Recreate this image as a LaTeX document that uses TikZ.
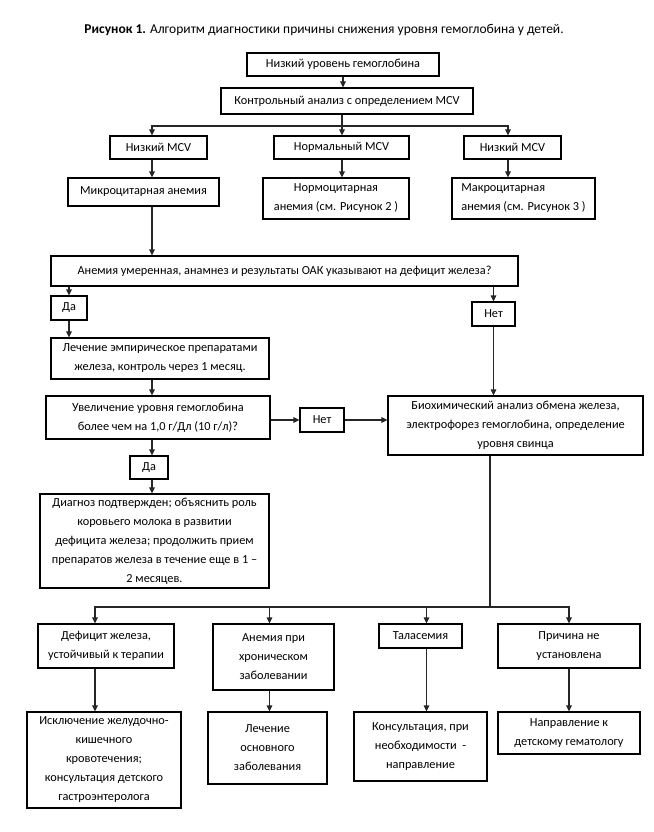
\documentclass[tikz,border=0pt]{standalone}
\usepackage{fontspec}
\setmainfont{Carlito}
\usetikzlibrary{arrows.meta}

\begin{document}
\begin{tikzpicture}[
  x=1pt,y=-1pt,
  >={Triangle[length=6pt,width=5.5pt]},
  box/.style={draw,line width=1.1pt,align=center,inner sep=1pt,
    font=\fontsize{12.3}{19}\selectfont},
  link/.style={->,line width=1.1pt,draw=black!85},
  wire/.style={line width=1.1pt,draw=black!85}
]
  \useasboundingbox (0,0) rectangle (653,832);
  \node[font=\fontsize{13.5}{16}\selectfont] (title) at (324,30)
    {\textbf{Рисунок 1.} Алгоритм диагностики причины снижения уровня гемоглобина у детей.};

  % columns and branch points
  \coordinate (colL) at (152,0);
  \coordinate (colR) at (508,0);
  \coordinate (brA) at (342,126);
  \coordinate (brB) at (490,607);

  % top part
  \node[box,minimum width=192pt,minimum height=23pt] (low) at (343,64.5) {Низкий уровень гемоглобина};
  \node[box,minimum width=252pt,minimum height=26pt] (mcv) at (347,101) {Контрольный анализ с определением MCV};
  \node[box,minimum width=97pt,minimum height=23pt] (lowL) at (158.5,147.5) {Низкий MCV};
  \node[box,minimum width=135pt,minimum height=23pt] (norm) at (341.5,147.5) {Нормальный MCV};
  \node[box,minimum width=97pt,minimum height=23pt] (lowR) at (512.5,147.5) {Низкий MCV};
  \node[box,minimum width=151pt,minimum height=28pt] (micro) at (143.5,192) {Микроцитарная анемия};
  \node[box,minimum width=146pt,minimum height=41pt] (normo) at (336,198.5) {Нормоцитарная\\анемия (см. Рисунок 2 )};
  \node[box,align=left,minimum width=143pt,minimum height=41pt] (macro) at (523.5,198.5) {Макроцитарная\\анемия (см. Рисунок 3 )};

  % iron question
  \node[box,minimum width=467pt,minimum height=30pt] (ask) at (284.5,271)
    {Анемия умеренная, анамнез и результаты ОАК указывают на дефицит железа?};
  \node[box,minimum width=36pt,minimum height=24pt] (yesA) at (69,308) {Да};
  \node[box,minimum width=43pt,minimum height=24pt] (noA) at (493.5,314) {Нет};
  \node[box,minimum width=218pt,minimum height=41pt] (trial) at (160,358.5)
    {Лечение эмпирическое препаратами\\железа, контроль через 1 месяц.};
  \node[box,minimum width=224pt,minimum height=43pt] (rise) at (158,417.5)
    {Увеличение уровня гемоглобина\\более чем на 1,0 г/Дл (10 г/л)?};
  \node[box,minimum width=44pt,minimum height=24pt] (noB) at (322,420) {Нет};
  \node[box,minimum width=255pt,minimum height=59pt] (labs) at (515.5,425.5)
    {Биохимический анализ обмена железа,\\электрофорез гемоглобина, определение\\уровня свинца};
  \node[box,minimum width=38pt,minimum height=23pt] (yesB) at (149,467.5) {Да};
  \node[box,minimum width=229pt,minimum height=94pt] (sure) at (154.5,541)
    {Диагноз подтвержден; объяснить роль\\коровьего молока в развитии\\дефицита железа; продолжить прием\\препаратов железа в течение еще в 1 –\\2 месяцев.};

  % causes
  \node[box,minimum width=136pt,minimum height=44pt] (resist) at (106,646) {Дефицит железа,\\устойчивый к терапии};
  \node[box,minimum width=121pt,minimum height=66pt] (chron) at (273.5,657) {Анемия при\\хроническом\\заболевании};
  \node[box,minimum width=83pt,minimum height=24pt] (thal) at (420.5,636) {Таласемия};
  \node[box,minimum width=142pt,minimum height=44pt] (unkn) at (569,646) {Причина не\\установлена};
  \node[box,minimum width=154pt,minimum height=96pt] (gastro) at (104,760)
    {Исключение желудочно-\\кишечного\\кровотечения;\\консультация детского\\гастроэнтеролога};
  \node[box,minimum width=119pt,minimum height=72pt] (treat) at (267.5,748) {Лечение\\основного\\заболевания};
  \node[box,minimum width=133pt,minimum height=69pt] (consult) at (420.5,746.5) {Консультация, при\\необходимости ~-\\направление};
  \node[box,minimum width=142pt,minimum height=42pt] (hemat) at (569,733) {Направление к\\детскому гематологу};

  % connectors
  \draw[link] (low.south) -- (mcv.north -| low.south);
  \draw[wire] (mcv.south -| brA) -- (brA);
  \draw[link] (brA) -| (lowL.north -| colL);
  \draw[link] (brA) -- (norm.north -| brA);
  \draw[link] (brA) -| (lowR.north -| colR);
  \draw[link] (lowL.south -| colL) -- (micro.north -| colL);
  \draw[link] (norm.south -| brA) -- (normo.north -| brA);
  \draw[link] (lowR.south -| colR) -- (macro.north -| colR);
  \draw[link] (micro.south -| colL) -- (ask.north -| colL);
  \draw[link] (ask.south -| yesA) -- (yesA.north);
  \draw[link] (ask.south -| noA) -- (noA.north);
  \draw[link] (yesA.south) -- (trial.north -| yesA.south);
  \draw[link] (trial.south -| colL) -- (rise.north -| colL);
  \draw[link] (rise.south -| colL) -- (yesB.north -| colL);
  \draw[link] (yesB.south -| colL) -- (sure.north -| colL);
  \draw[link] (rise.east |- noB) -- (noB.west);
  \draw[link] (noB.east) -- (noB.east -| labs.west);
  \draw[link] (noA.south) -- (labs.north -| noA.south);
  \draw[wire] (labs.south -| brB) -- (brB);
  \draw[link] (brB) -| ([xshift=-11pt]resist.north);
  \draw[link] (brB) -| ([xshift=-4pt]chron.north);
  \draw[link] (brB) -| ([xshift=6pt]thal.north);
  \draw[link] (brB) -| (unkn.north);
  \draw[link] ([xshift=-11pt]resist.south) -- ([xshift=-11pt]resist.south |- gastro.north);
  \draw[link] ([xshift=-4pt]chron.south) -- ([xshift=-4pt]chron.south |- treat.north);
  \draw[link] ([xshift=6pt]thal.south) -- ([xshift=6pt]thal.south |- consult.north);
  \draw[link] (unkn.south) -- (hemat.north);
\end{tikzpicture}
\end{document}
